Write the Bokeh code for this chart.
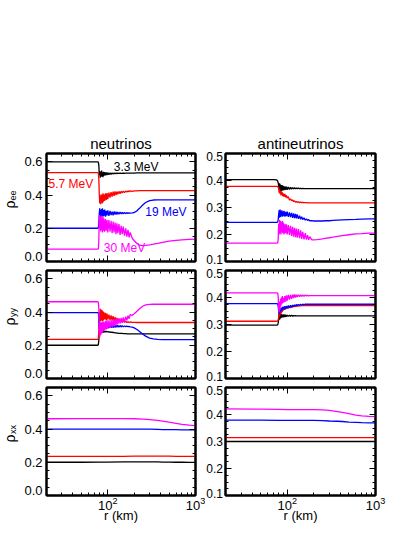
from bokeh.plotting import figure
from bokeh.models import LinearAxis, LogAxis, FixedTicker, Label, Range1d
from bokeh.layouts import row, column
from bokeh.core.properties import value
from bokeh.embed import file_html
from bokeh.resources import INLINE
import math

# ---------------- data ----------------
R = [20, 70, 76, 78, 79,
     80, 81, 82, 83, 84, 85, 86, 87, 88, 89,
     90, 92, 94, 96, 98,
     100, 103, 106, 109, 112, 115, 118, 121, 124, 127,
     130, 134, 138, 142, 146, 150,
     155, 160, 165, 170, 175, 180,
     190, 200, 215, 230, 250, 270,
     300, 330, 370, 420, 500, 600,
     700, 850, 1000]

R_S = [20, 50, 80, 100, 150, 200, 250, 300, 370, 420, 500, 600, 700, 850, 1000]

ENERGY_LABELS = ["3.3 MeV", "5.7 MeV", "19 MeV", "30 MeV"]
COLORS = ["#000000", "#ff0000", "#0000ff", "#ff00ff"]
TITLES = ["neutrinos", "antineutrinos"]
ROW_SUBS = ["ee", "yy", "xx"]

# neutrinos, rho_ee
nu_ee_33 = [0.600, 0.600, 0.600, 0.598, 0.580,
            0.520, 0.545, 0.505, 0.540, 0.510, 0.548, 0.512, 0.535, 0.508, 0.540,
            0.515, 0.538, 0.518, 0.536, 0.520,
            0.535, 0.522, 0.534, 0.525, 0.533, 0.526, 0.533, 0.528, 0.532, 0.529,
            0.532, 0.530, 0.532, 0.530, 0.531, 0.531,
            0.531, 0.532, 0.532, 0.532, 0.532, 0.532,
            0.532, 0.532, 0.533, 0.533, 0.533, 0.533,
            0.533, 0.533, 0.533, 0.533, 0.533, 0.533,
            0.533, 0.533, 0.533]
nu_ee_57 = [0.535, 0.535, 0.535, 0.533, 0.500,
            0.400, 0.350, 0.395, 0.345, 0.405, 0.355, 0.400, 0.350, 0.410, 0.360,
            0.405, 0.365, 0.410, 0.370, 0.412,
            0.375, 0.415, 0.385, 0.418, 0.390, 0.420, 0.395, 0.422, 0.400, 0.421,
            0.405, 0.422, 0.408, 0.423, 0.412, 0.424,
            0.415, 0.424, 0.418, 0.425, 0.420, 0.425,
            0.422, 0.425, 0.425, 0.426, 0.426, 0.426,
            0.426, 0.426, 0.426, 0.426, 0.426, 0.426,
            0.426, 0.426, 0.426]
nu_ee_19 = [0.200, 0.200, 0.200, 0.202, 0.230,
            0.290, 0.320, 0.265, 0.310, 0.270, 0.315, 0.275, 0.320, 0.270, 0.310,
            0.275, 0.312, 0.270, 0.305, 0.278,
            0.308, 0.275, 0.305, 0.280, 0.300, 0.278, 0.302, 0.282, 0.300, 0.283,
            0.298, 0.284, 0.298, 0.286, 0.296, 0.287,
            0.295, 0.288, 0.294, 0.290, 0.293, 0.291,
            0.293, 0.295, 0.305, 0.320, 0.340, 0.355,
            0.366, 0.370, 0.371, 0.371, 0.371, 0.371,
            0.371, 0.371, 0.371]
nu_ee_30 = [0.075, 0.075, 0.075, 0.076, 0.120,
            0.280, 0.200, 0.270, 0.180, 0.275, 0.190, 0.265, 0.175, 0.270, 0.185,
            0.260, 0.180, 0.255, 0.185, 0.250,
            0.175, 0.250, 0.180, 0.245, 0.170, 0.240, 0.175, 0.235, 0.165, 0.230,
            0.170, 0.225, 0.160, 0.215, 0.165, 0.210,
            0.155, 0.200, 0.150, 0.190, 0.145, 0.175,
            0.140, 0.125, 0.108, 0.098, 0.095, 0.097,
            0.100, 0.104, 0.109, 0.115, 0.122, 0.127,
            0.130, 0.133, 0.135]

# neutrinos, rho_yy
nu_yy_33 = [0.200, 0.200, 0.200, 0.202, 0.230,
            0.280, 0.295, 0.270, 0.292, 0.275, 0.290, 0.278, 0.288, 0.276, 0.286,
            0.278, 0.286, 0.279, 0.284, 0.280,
            0.283, 0.279, 0.281, 0.278, 0.279, 0.276, 0.277, 0.274, 0.275, 0.273,
            0.273, 0.272, 0.272, 0.271, 0.271, 0.270,
            0.270, 0.270, 0.269, 0.269, 0.269, 0.269,
            0.268, 0.268, 0.268, 0.268, 0.268, 0.268,
            0.268, 0.268, 0.268, 0.268, 0.268, 0.268,
            0.268, 0.268, 0.268]
nu_yy_57 = [0.235, 0.235, 0.235, 0.237, 0.280,
            0.400, 0.340, 0.420, 0.345, 0.415, 0.350, 0.410, 0.345, 0.405, 0.350,
            0.400, 0.355, 0.395, 0.350, 0.390,
            0.355, 0.385, 0.352, 0.380, 0.350, 0.375, 0.345, 0.370, 0.342, 0.365,
            0.342, 0.360, 0.340, 0.355, 0.338, 0.350,
            0.338, 0.345, 0.337, 0.342, 0.337, 0.340,
            0.338, 0.338, 0.337, 0.337, 0.337, 0.337,
            0.337, 0.337, 0.337, 0.337, 0.337, 0.337,
            0.337, 0.337, 0.337]
nu_yy_19 = [0.397, 0.397, 0.397, 0.395, 0.370,
            0.300, 0.330, 0.285, 0.335, 0.290, 0.330, 0.295, 0.335, 0.290, 0.328,
            0.298, 0.330, 0.300, 0.326, 0.302,
            0.325, 0.303, 0.324, 0.305, 0.322, 0.306, 0.322, 0.307, 0.321, 0.308,
            0.320, 0.309, 0.319, 0.310, 0.318, 0.311,
            0.316, 0.312, 0.315, 0.312, 0.313, 0.311,
            0.309, 0.305, 0.295, 0.283, 0.268, 0.255,
            0.243, 0.238, 0.235, 0.234, 0.234, 0.234,
            0.234, 0.234, 0.234]
nu_yy_30 = [0.462, 0.462, 0.462, 0.460, 0.420,
            0.300, 0.250, 0.330, 0.260, 0.340, 0.270, 0.335, 0.280, 0.345, 0.285,
            0.340, 0.290, 0.345, 0.295, 0.350,
            0.300, 0.350, 0.305, 0.352, 0.310, 0.355, 0.315, 0.358, 0.320, 0.360,
            0.325, 0.362, 0.330, 0.365, 0.335, 0.368,
            0.340, 0.372, 0.350, 0.378, 0.360, 0.385,
            0.380, 0.390, 0.405, 0.420, 0.435, 0.443,
            0.446, 0.447, 0.447, 0.447, 0.447, 0.447,
            0.447, 0.447, 0.447]

# neutrinos, rho_xx (coarser radius grid)
nu_xx_33 = [0.200, 0.200, 0.201, 0.201, 0.202, 0.202, 0.202, 0.202, 0.202, 0.201, 0.201, 0.200, 0.200, 0.199, 0.199]
nu_xx_57 = [0.235, 0.235, 0.235, 0.236, 0.236, 0.237, 0.237, 0.237, 0.237, 0.237, 0.237, 0.236, 0.236, 0.236, 0.236]
nu_xx_19 = [0.400, 0.400, 0.400, 0.400, 0.400, 0.400, 0.399, 0.399, 0.398, 0.397, 0.396, 0.396, 0.395, 0.395, 0.395]
nu_xx_30 = [0.462, 0.463, 0.463, 0.463, 0.463, 0.462, 0.460, 0.457, 0.452, 0.448, 0.441, 0.434, 0.428, 0.423, 0.421]

# antineutrinos, rho_ee
anu_ee_33 = [0.403, 0.403, 0.402, 0.398, 0.392,
             0.380, 0.365, 0.390, 0.358, 0.385, 0.360, 0.383, 0.362, 0.382, 0.363,
             0.380, 0.364, 0.378, 0.365, 0.377,
             0.366, 0.376, 0.367, 0.375, 0.368, 0.374, 0.369, 0.373, 0.369, 0.372,
             0.370, 0.372, 0.370, 0.371, 0.370, 0.371,
             0.370, 0.370, 0.370, 0.370, 0.370, 0.370,
             0.370, 0.370, 0.370, 0.370, 0.370, 0.370,
             0.370, 0.370, 0.370, 0.370, 0.370, 0.370,
             0.370, 0.370, 0.370]
anu_ee_57 = [0.378, 0.378, 0.378, 0.377, 0.375,
             0.370, 0.355, 0.368, 0.350, 0.362, 0.345, 0.360, 0.348, 0.356, 0.342,
             0.352, 0.340, 0.350, 0.338, 0.345,
             0.335, 0.340, 0.328, 0.332, 0.325, 0.328, 0.322, 0.325, 0.320, 0.322,
             0.319, 0.321, 0.318, 0.320, 0.318, 0.319,
             0.318, 0.318, 0.318, 0.317, 0.317, 0.317,
             0.317, 0.317, 0.317, 0.317, 0.317, 0.317,
             0.317, 0.317, 0.317, 0.317, 0.317, 0.317,
             0.317, 0.317, 0.317]
anu_ee_19 = [0.245, 0.245, 0.245, 0.246, 0.255,
             0.275, 0.290, 0.262, 0.292, 0.265, 0.288, 0.268, 0.290, 0.266, 0.285,
             0.268, 0.288, 0.266, 0.284, 0.268,
             0.285, 0.265, 0.282, 0.264, 0.280, 0.262, 0.278, 0.261, 0.276, 0.260,
             0.274, 0.258, 0.270, 0.256, 0.266, 0.255,
             0.262, 0.253, 0.258, 0.252, 0.255, 0.251,
             0.251, 0.250, 0.250, 0.250, 0.250, 0.251,
             0.251, 0.252, 0.253, 0.254, 0.255, 0.256,
             0.257, 0.258, 0.258]
anu_ee_30 = [0.168, 0.168, 0.168, 0.169, 0.180,
             0.240, 0.200, 0.255, 0.205, 0.250, 0.200, 0.245, 0.210, 0.250, 0.205,
             0.245, 0.200, 0.240, 0.205, 0.238,
             0.200, 0.235, 0.198, 0.232, 0.195, 0.228, 0.192, 0.225, 0.190, 0.222,
             0.188, 0.220, 0.186, 0.215, 0.184, 0.210,
             0.182, 0.205, 0.181, 0.198, 0.180, 0.192,
             0.180, 0.180, 0.181, 0.182, 0.184, 0.186,
             0.188, 0.190, 0.193, 0.196, 0.199, 0.202,
             0.203, 0.205, 0.205]

# antineutrinos, rho_yy
anu_yy_33 = [0.298, 0.298, 0.298, 0.299, 0.305,
             0.320, 0.345, 0.318, 0.342, 0.322, 0.340, 0.325, 0.338, 0.326, 0.337,
             0.327, 0.337, 0.328, 0.336, 0.329,
             0.335, 0.330, 0.334, 0.331, 0.334, 0.331, 0.333, 0.332, 0.333, 0.332,
             0.332, 0.332, 0.332, 0.332, 0.332, 0.332,
             0.332, 0.332, 0.332, 0.332, 0.332, 0.332,
             0.332, 0.332, 0.332, 0.332, 0.332, 0.332,
             0.332, 0.332, 0.332, 0.332, 0.332, 0.332,
             0.332, 0.332, 0.332]
anu_yy_57 = [0.312, 0.312, 0.312, 0.313, 0.318,
             0.325, 0.335, 0.330, 0.345, 0.338, 0.350, 0.342, 0.355, 0.348, 0.358,
             0.352, 0.360, 0.355, 0.362, 0.358,
             0.364, 0.360, 0.366, 0.362, 0.367, 0.364, 0.368, 0.366, 0.369, 0.367,
             0.369, 0.368, 0.370, 0.369, 0.370, 0.370,
             0.370, 0.370, 0.370, 0.370, 0.370, 0.370,
             0.370, 0.370, 0.370, 0.370, 0.370, 0.370,
             0.370, 0.370, 0.370, 0.370, 0.370, 0.370,
             0.370, 0.370, 0.370]
anu_yy_19 = [0.377, 0.377, 0.377, 0.376, 0.368,
             0.350, 0.340, 0.355, 0.345, 0.360, 0.348, 0.362, 0.352, 0.365, 0.355,
             0.366, 0.356, 0.368, 0.358, 0.369,
             0.360, 0.370, 0.362, 0.371, 0.364, 0.372, 0.366, 0.373, 0.368, 0.374,
             0.370, 0.374, 0.371, 0.375, 0.372, 0.375,
             0.374, 0.375, 0.375, 0.375, 0.375, 0.375,
             0.375, 0.375, 0.375, 0.375, 0.375, 0.375,
             0.375, 0.375, 0.375, 0.375, 0.375, 0.375,
             0.375, 0.375, 0.375]
anu_yy_30 = [0.417, 0.417, 0.417, 0.416, 0.405,
             0.360, 0.345, 0.385, 0.355, 0.395, 0.370, 0.400, 0.375, 0.405, 0.380,
             0.400, 0.382, 0.405, 0.385, 0.408,
             0.388, 0.410, 0.392, 0.410, 0.395, 0.411, 0.398, 0.411, 0.400, 0.410,
             0.402, 0.410, 0.403, 0.410, 0.404, 0.409,
             0.405, 0.409, 0.406, 0.408, 0.406, 0.407,
             0.407, 0.407, 0.407, 0.407, 0.407, 0.407,
             0.407, 0.407, 0.407, 0.407, 0.407, 0.407,
             0.407, 0.407, 0.407]

# antineutrinos, rho_xx (coarser radius grid)
anu_xx_33 = [0.300, 0.300, 0.300, 0.300, 0.300, 0.300, 0.300, 0.300, 0.300, 0.300, 0.300, 0.300, 0.300, 0.300, 0.300]
anu_xx_57 = [0.314, 0.314, 0.314, 0.314, 0.314, 0.314, 0.314, 0.314, 0.314, 0.314, 0.314, 0.314, 0.314, 0.314, 0.314]
anu_xx_19 = [0.379, 0.379, 0.378, 0.378, 0.378, 0.378, 0.377, 0.376, 0.375, 0.374, 0.372, 0.371, 0.370, 0.369, 0.369]
anu_xx_30 = [0.421, 0.420, 0.419, 0.418, 0.418, 0.418, 0.417, 0.415, 0.411, 0.408, 0.403, 0.398, 0.395, 0.393, 0.392]

# ticks and tick labels
X_MAJOR = [100, 1000]
X_MINOR = [20, 30, 40, 50, 60, 70, 80, 90, 200, 300, 400, 500, 600, 700, 800, 900]
Y_LEFT_MAJOR = [0.0, 0.2, 0.4, 0.6]
Y_LEFT_LABELS = ["0.0", "0.2", "0.4", "0.6"]
Y_LEFT_MINOR = [0.05, 0.1, 0.15, 0.25, 0.3, 0.35, 0.45, 0.5, 0.55, 0.65]
Y_RIGHT_MAJOR = [0.1, 0.2, 0.3, 0.4, 0.5]
Y_RIGHT_LABELS = ["0.1", "0.2", "0.3", "0.4", "0.5"]
Y_RIGHT_MINOR = [0.125, 0.15, 0.175, 0.225, 0.25, 0.275, 0.325, 0.35, 0.375, 0.425, 0.45, 0.475]
Y_LEFT_RANGE = (0.0, 0.65)
Y_RIGHT_RANGE = (0.1, 0.5)

# energy annotations (data coords, top-left panel)
ENERGY_LABEL_R = [210, 38, 460, 155]
ENERGY_LABEL_RHO = [0.567, 0.467, 0.297, 0.082]

PANELS = [
    [(R, [nu_ee_33, nu_ee_57, nu_ee_19, nu_ee_30]), (R, [anu_ee_33, anu_ee_57, anu_ee_19, anu_ee_30])],
    [(R, [nu_yy_33, nu_yy_57, nu_yy_19, nu_yy_30]), (R, [anu_yy_33, anu_yy_57, anu_yy_19, anu_yy_30])],
    [(R_S, [nu_xx_33, nu_xx_57, nu_xx_19, nu_xx_30]), (R_S, [anu_xx_33, anu_xx_57, anu_xx_19, anu_xx_30])],
]
for rw in PANELS:
    for xs, ys in rw:
        for y in ys:
            assert len(y) == len(xs), (len(y), len(xs))

# ---------------- layout constants ----------------
FONT = "Liberation Sans"
FRAME_H = 108
HEIGHTS = [266, 117, 146]
TOTAL_H = sum(HEIGHTS)
MB_TOP = [153, 4, 4]
MB_BOT = [5, 5, 34]
FRAME_TOPS = [MB_TOP[0], HEIGHTS[0] + MB_TOP[1], HEIGHTS[0] + HEIGHTS[1] + MB_TOP[2]]  # from layout top
LEFT_STRIP_W = 44
MID_STRIP_W = 18


def style_axis(ax, ticker, show_labels, standoff=1):
    ax.ticker = ticker
    ax.axis_line_color = "black"
    ax.axis_line_width = 2
    ax.major_tick_in = 6
    ax.major_tick_out = 0
    ax.minor_tick_in = 3
    ax.minor_tick_out = 0
    ax.major_tick_line_color = "black"
    ax.minor_tick_line_color = "black"
    ax.major_tick_line_width = 1
    ax.minor_tick_line_width = 1
    ax.major_label_text_font = FONT
    ax.major_label_text_color = "black"
    if show_labels:
        ax.major_label_text_font_size = "13px"
        ax.major_label_standoff = standoff
    else:
        ax.major_label_text_font_size = "1px"
        ax.major_label_text_alpha = 0
        ax.major_label_standoff = 0


def make_panel(rw, col):
    left = col == 0
    xs, ys = PANELS[rw][col]
    yr = Y_LEFT_RANGE if left else Y_RIGHT_RANGE
    p = figure(width=161 if left else 184, height=HEIGHTS[rw],
               x_axis_type="log", x_range=Range1d(20, 1000), y_range=Range1d(*yr),
               output_backend="svg", toolbar_location=None,
               min_border_left=2, min_border_right=10 if left else 32,
               min_border_top=MB_TOP[rw], min_border_bottom=MB_BOT[rw],
               outline_line_color="black", outline_line_width=2,
               background_fill_color="white", border_fill_color="white")
    p.xgrid.visible = False
    p.ygrid.visible = False
    if rw == 0:
        p.title.text = TITLES[col]
        p.title.align = "center"
        p.title.text_font = FONT
        p.title.text_font_size = "15px"
        p.title.text_font_style = "normal"
        p.title.text_color = "black"
        p.title.standoff = 4
    else:
        p.title.visible = False

    xt = FixedTicker(ticks=X_MAJOR, minor_ticks=X_MINOR)
    yt = FixedTicker(ticks=Y_LEFT_MAJOR if left else Y_RIGHT_MAJOR,
                     minor_ticks=Y_LEFT_MINOR if left else Y_RIGHT_MINOR)

    xb = p.xaxis[0]
    style_axis(xb, xt, rw == 2, standoff=1)
    if rw == 2:
        xb.axis_label = "r (km)"
        xb.axis_label_text_font = FONT
        xb.axis_label_text_font_size = "13px"
        xb.axis_label_text_font_style = "normal"
        xb.axis_label_text_color = "black"
        xb.axis_label_standoff = -5
    style_axis(p.yaxis[0], yt, False)

    top = LogAxis()
    style_axis(top, xt, False)
    p.add_layout(top, "above")
    right = LinearAxis()
    style_axis(right, yt, False)
    p.add_layout(right, "right")

    for y, c in zip(ys, COLORS):
        p.line(xs, y, line_color=c, line_width=1.3)

    if left and rw == 0:
        for t, c, rx, ry in zip(ENERGY_LABELS, COLORS, ENERGY_LABEL_R, ENERGY_LABEL_RHO):
            p.add_layout(Label(x=rx, y=ry, text=t, text_color=c, text_align="center",
                               text_baseline="middle", text_font=FONT, text_font_size="12px"))
    return p


def tick_label_y(rw, v, rng, nudge):
    """vertical position (pixels from layout bottom) of a y tick label, following the panel's linear scale"""
    lo, hi = rng
    from_top = FRAME_TOPS[rw] + (hi - v) / (hi - lo) * FRAME_H + nudge
    return TOTAL_H - from_top


def strip(width):
    s = figure(width=width, height=TOTAL_H, x_range=Range1d(0, width), y_range=Range1d(0, TOTAL_H),
               output_backend="svg", toolbar_location=None,
               x_axis_location=None, y_axis_location=None,
               min_border_left=0, min_border_right=0, min_border_top=0, min_border_bottom=0,
               outline_line_color=None, background_fill_color="white", border_fill_color="white")
    s.xgrid.visible = False
    s.ygrid.visible = False
    s.title.visible = False
    return s


# left strip: y tick labels of the neutrino panels and the rho labels
left_strip = strip(LEFT_STRIP_W)
lx, ly, lt = [], [], []
for rw in range(3):
    for i, (v, t) in enumerate(zip(Y_LEFT_MAJOR, Y_LEFT_LABELS)):
        nudge = -5 if i == 0 else 0
        lx.append(LEFT_STRIP_W - 2)
        ly.append(tick_label_y(rw, v, Y_LEFT_RANGE, nudge))
        lt.append(t)
left_strip.text(x=lx, y=ly, text=lt, text_align="right", text_baseline="middle",
                text_font=value(FONT), text_font_size=value("13px"), text_color="black")
rho_y = [TOTAL_H - (FRAME_TOPS[rw] + 51) for rw in range(3)]
sub_y = [TOTAL_H - (FRAME_TOPS[rw] + 42) for rw in range(3)]
left_strip.text(x=[9, 9, 9], y=rho_y, text=["ρ", "ρ", "ρ"], angle=math.pi / 2,
                text_align="center", text_baseline="middle",
                text_font=value(FONT), text_font_size=value("14px"), text_color="black")
left_strip.text(x=[12, 12, 12], y=sub_y, text=ROW_SUBS, angle=math.pi / 2,
                text_align="center", text_baseline="middle",
                text_font=value(FONT), text_font_size=value("9px"), text_color="black")

# middle strip: y tick labels of the antineutrino panels
mid_strip = strip(MID_STRIP_W)
mx, my, mt = [], [], []
for rw in range(3):
    n = len(Y_RIGHT_MAJOR)
    for i, (v, t) in enumerate(zip(Y_RIGHT_MAJOR, Y_RIGHT_LABELS)):
        nudge = -2 if i == 0 else (3 if i == n - 1 else 0)
        mx.append(MID_STRIP_W - 0.5)
        my.append(tick_label_y(rw, v, Y_RIGHT_RANGE, nudge))
        mt.append(t)
mid_strip.text(x=mx, y=my, text=mt, text_align="right", text_baseline="middle",
               text_font=value(FONT), text_font_size=value("12px"), text_color="black")

left_col = column(*[make_panel(rw, 0) for rw in range(3)])
right_col = column(*[make_panel(rw, 1) for rw in range(3)])
layout = row(left_strip, left_col, mid_strip, right_col)

open("out.html", "w").write(file_html(layout, INLINE))
